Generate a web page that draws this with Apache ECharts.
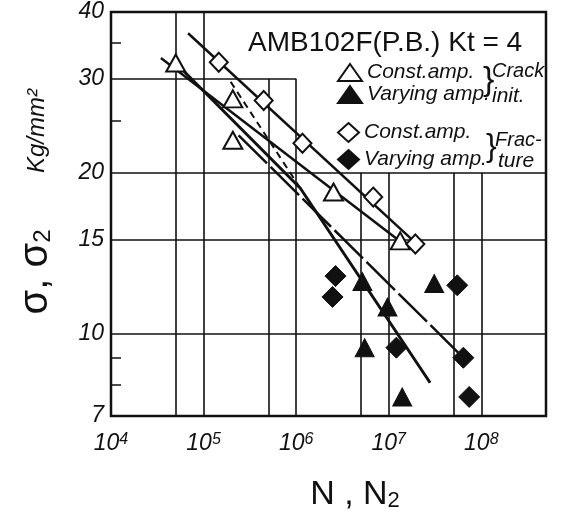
<!DOCTYPE html>
<html>
<head>
<meta charset="utf-8">
<title>AMB102F(P.B.) Kt=4</title>
<script src="https://cdn.jsdelivr.net/npm/echarts@6/dist/echarts.min.js"></script>
<style>
  body { margin: 0; background: #fff; }
  #main { width: 562px; height: 525px; }
</style>
</head>
<body>
<div id="main"></div>
<script type="text/javascript">
var chart = echarts.init(document.getElementById('main'));

// points: N (cycles) and stress (kg/mm2)
var openTriN = [5.0e4, 2.07e5, 2.07e5, 2.53e6, 1.33e7];
var openTriS = [32.1, 27.5, 23.0, 18.4, 14.9];
var fillTriN = [5.2e6, 9.7e6, 5.5e6, 3.1e7, 1.4e7];
var fillTriS = [12.5, 11.2, 9.4, 12.4, 7.6];
var openDiaN = [1.46e5, 4.46e5, 1.17e6, 6.8e6, 1.94e7];
var openDiaS = [32.2, 27.3, 22.7, 18.0, 14.7];
var fillDiaN = [2.66e6, 2.47e6, 5.5e7, 1.21e7, 6.4e7, 7.4e7];
var fillDiaS = [12.8, 11.7, 12.3, 9.4, 9.0, 7.6];

// hand drawn curves
var constFracN = [6.8e4, 2.19e7];
var constFracS = [36.5, 14.5];
var constCrackN = [3.46e4, 1.24e7];
var constCrackS = [32.8, 15.0];
var varCrackN = [5.0e4, 1.11e6, 2.8e7];
var varCrackS = [32.1, 18.7, 8.08];
var varCrackExtN = [1.96e5, 1.11e6];
var varCrackExtS = [29.6, 18.7];
var varFracN = [2.39e5, 6.4e7];
var varFracS = [23.5, 9.0];

// axis ticks and grid
var xLabels = [1e4, 1e5, 1e6, 1e7, 1e8];
var yLabels = [7, 10, 15, 20, 30, 40];
var yMinorTicks = [8, 9, 25, 35];
var gridX = [5e4, 1e5, 5e5, 1e6, 5e6, 1e7, 5e7, 1e8];
var gridXTop = [40, 40, 30, 30, 20, 20, 20, 20];
var gridY = [30, 20, 15, 10];
var gridYEnd = [1e6, 5e8, 5e8, 5e8];

function pairs(xs, ys) {
  return xs.map(function (x, i) { return [x, ys[i]]; });
}

var gridLines = [];
gridX.forEach(function (x, i) {
  gridLines.push([{ coord: [x, 7] }, { coord: [x, gridXTop[i]] }]);
});
gridY.forEach(function (y, i) {
  gridLines.push([{ coord: [1e4, y] }, { coord: [gridYEnd[i], y] }]);
});

var hand = "'Liberation Sans', sans-serif";
var black = '#111';

function curve(xs, ys, width, type) {
  return {
    type: 'line', data: pairs(xs, ys), showSymbol: false, silent: true,
    lineStyle: { color: black, width: width, type: type || 'solid' }, z: 3
  };
}

var option = {
  backgroundColor: '#fff',
  animation: false,
  grid: { left: 111, right: 16, top: 12, bottom: 109, show: true, borderColor: black, borderWidth: 2.5 },
  xAxis: {
    type: 'log', logBase: 10, min: 1e4, max: 5e8,
    axisLine: { show: false }, axisTick: { show: false }, splitLine: { show: false },
    axisLabel: {
      customValues: xLabels, margin: 16, color: black,
      formatter: function (v) { return '{b|10}{s|' + Math.round(Math.log10(v)) + '}'; },
      rich: {
        b: { fontSize: 23, fontStyle: 'italic', fontFamily: hand, color: black },
        s: { fontSize: 16, fontStyle: 'italic', fontFamily: hand, color: black, verticalAlign: 'top', padding: [0, 0, 8, 0] }
      }
    }
  },
  yAxis: {
    type: 'log', logBase: 10, min: 7, max: 40,
    axisLine: { show: false }, splitLine: { show: false },
    axisTick: { show: true, inside: true, length: 10, customValues: yMinorTicks, lineStyle: { color: black, width: 1.5 } },
    axisLabel: { customValues: yLabels, margin: 7, fontSize: 23, fontStyle: 'italic', fontFamily: hand, color: black }
  },
  legend: [
    {
      orient: 'vertical', left: 337, top: 62, padding: 0, itemGap: 1, itemWidth: 24, itemHeight: 17,
      selectedMode: false, data: ['Const.amp.', 'Varying amp.'],
      textStyle: { fontSize: 21, fontStyle: 'italic', fontFamily: hand, color: black, lineHeight: 20 }
    },
    {
      orient: 'vertical', left: 337, top: 122, padding: 0, itemGap: 6, itemWidth: 21, itemHeight: 19,
      selectedMode: false, data: ['Const.amp. ', 'Varying amp. '],
      textStyle: { fontSize: 21, fontStyle: 'italic', fontFamily: hand, color: black, lineHeight: 20 }
    }
  ],
  graphic: [
    { type: 'text', x: 248, y: 43, style: { text: 'AMB102F(P.B.) Kt = 4', font: '28px ' + hand, fill: black, textVerticalAlign: 'middle' } },
    { type: 'text', x: 483, y: 81, style: { text: '}', font: '34px ' + hand, fill: black, textVerticalAlign: 'middle' } },
    { type: 'text', x: 492, y: 71, style: { text: 'Crack', font: 'italic 20px ' + hand, fill: black, textVerticalAlign: 'middle' } },
    { type: 'text', x: 492, y: 96, style: { text: 'init.', font: 'italic 21px ' + hand, fill: black, textVerticalAlign: 'middle' } },
    { type: 'text', x: 486, y: 147, style: { text: '}', font: '32px ' + hand, fill: black, textVerticalAlign: 'middle' } },
    { type: 'text', x: 495, y: 140, style: { text: 'Frac-', font: 'italic 20px ' + hand, fill: black, textVerticalAlign: 'middle' } },
    { type: 'text', x: 498, y: 161, style: { text: 'ture', font: 'italic 21px ' + hand, fill: black, textVerticalAlign: 'middle' } },
    { type: 'text', x: 355, y: 495, style: {
        text: 'N , N{s|2}', font: '34px ' + hand, fill: black, textAlign: 'center', textVerticalAlign: 'middle',
        rich: { s: { fontSize: 22, fontFamily: hand, fill: black, verticalAlign: 'bottom', padding: [12, 0, 0, 0] } } } },
    { type: 'text', x: 36, y: 272, rotation: Math.PI / 2, style: {
        text: 'σ, σ{s|2}', font: '40px ' + hand, fill: black, textAlign: 'center', textVerticalAlign: 'middle',
        rich: { s: { fontSize: 24, fontFamily: hand, fill: black, padding: [14, 0, 0, 0] } } } },
    { type: 'text', x: 37, y: 131, rotation: Math.PI / 2, style: { text: 'Kg/mm²', font: 'italic 24px ' + hand, fill: black, textAlign: 'center', textVerticalAlign: 'middle' } }
  ],
  series: [
    {
      type: 'line', data: [], silent: true, z: 1,
      markLine: { silent: true, symbol: ['none', 'none'], label: { show: false },
        lineStyle: { color: black, width: 1.6, type: 'solid' }, data: gridLines }
    },
    curve(constFracN, constFracS, 2.5),
    curve(constCrackN, constCrackS, 2.5),
    curve(varCrackN, varCrackS, 3),
    curve(varCrackExtN, varCrackExtS, 2, [7, 5]),
    curve(varFracN, varFracS, 2.5, [40, 5]),
    {
      name: 'Const.amp.', type: 'scatter', symbol: 'triangle', symbolSize: [19, 17], z: 5,
      itemStyle: { color: '#fff', borderColor: black, borderWidth: 2, opacity: 1 }, data: pairs(openTriN, openTriS)
    },
    {
      name: 'Varying amp.', type: 'scatter', symbol: 'triangle', symbolSize: [19, 18], z: 5,
      itemStyle: { color: black, borderColor: black, borderWidth: 1, opacity: 1 }, data: pairs(fillTriN, fillTriS)
    },
    {
      name: 'Const.amp. ', type: 'scatter', symbol: 'diamond', symbolSize: [18, 19], z: 5,
      itemStyle: { color: '#fff', borderColor: black, borderWidth: 2, opacity: 1 }, data: pairs(openDiaN, openDiaS)
    },
    {
      name: 'Varying amp. ', type: 'scatter', symbol: 'diamond', symbolSize: [21, 21], z: 5,
      itemStyle: { color: black, borderColor: black, borderWidth: 1, opacity: 1 }, data: pairs(fillDiaN, fillDiaS)
    }
  ]
};

chart.setOption(option);
</script>
</body>
</html>
